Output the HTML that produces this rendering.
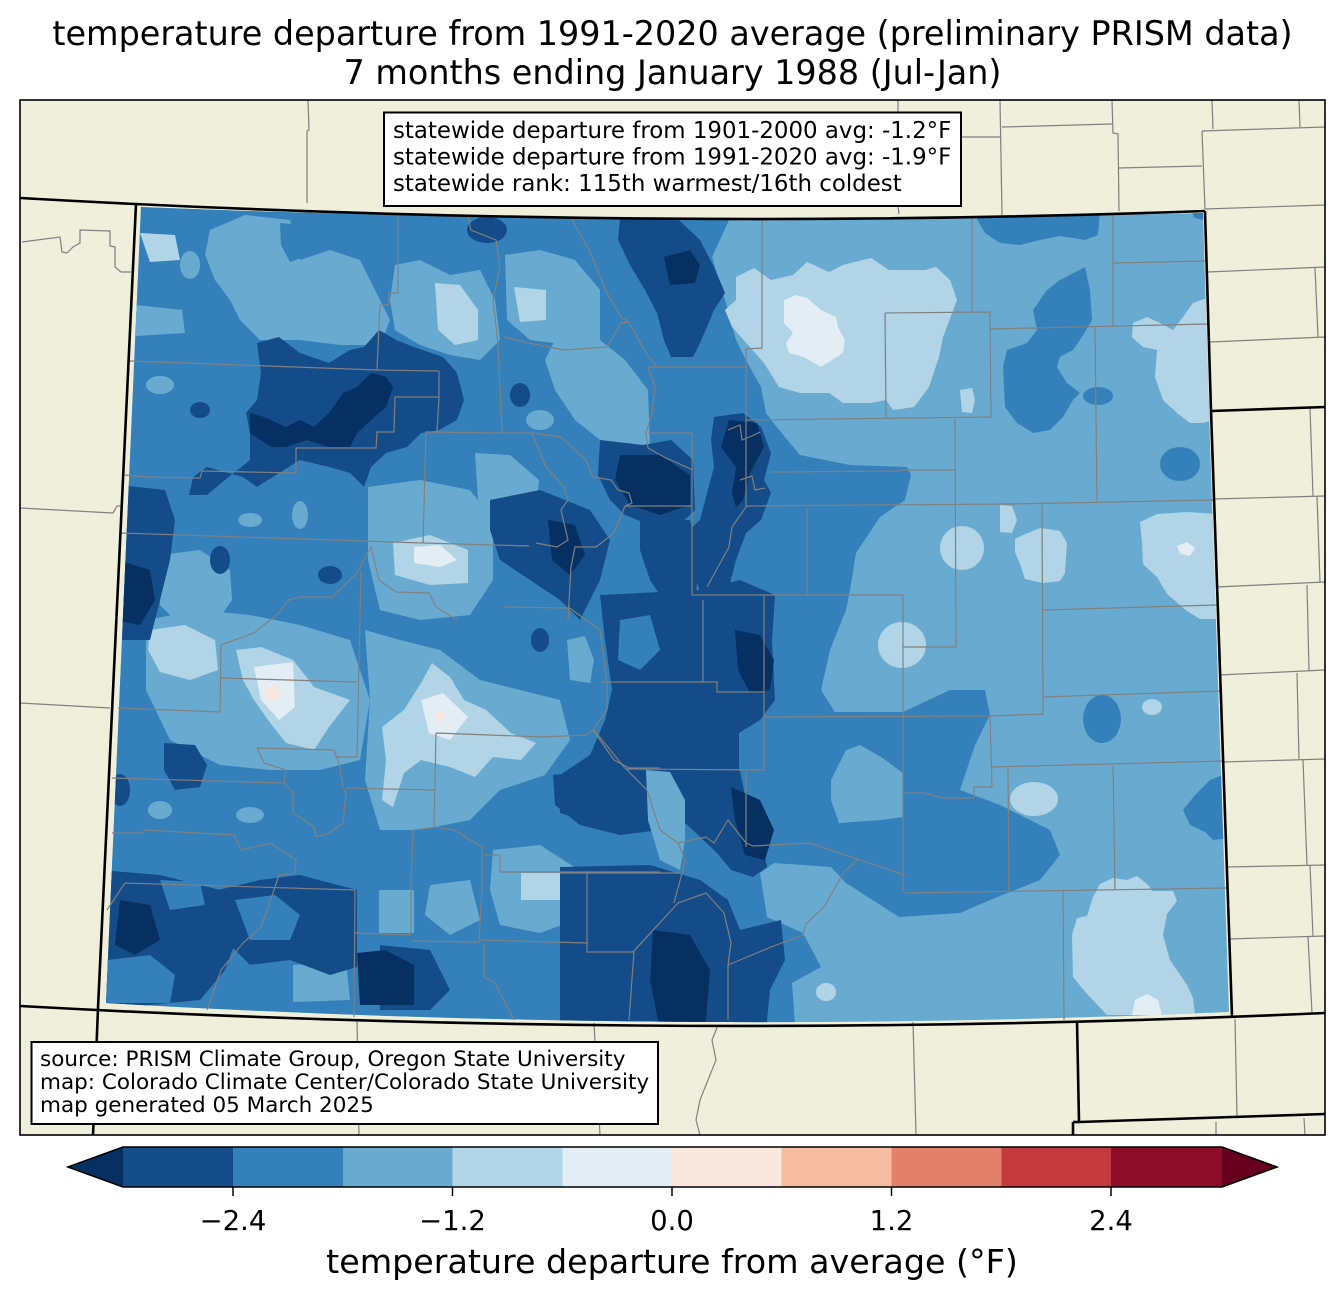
<!DOCTYPE html>
<html>
<head>
<meta charset="utf-8">
<style>
html,body{margin:0;padding:0;background:#fff;}
svg{display:block;}
text{font-family:"DejaVu Sans","Liberation Sans",sans-serif;fill:#000;}
</style>
</head>
<body>
<svg width="1344" height="1299" viewBox="0 0 1344 1299" xmlns="http://www.w3.org/2000/svg">
<defs>
<clipPath id="co">
<path d="M141,207 Q622,227 1203,213 L1209,411 L1229,1012 Q672,1036 106,1003 Z"/>
</clipPath>
</defs>
<rect x="0" y="0" width="1344" height="1299" fill="#ffffff"/>
<rect x="20" y="100" width="1305" height="1035" fill="#efefdb"/>

<g clip-path="url(#co)">
<rect x="90" y="190" width="1160" height="850" fill="#69abd0"/>
<!-- west mid-blue region -->
<polygon fill="#3480ba" points="90,190 730,190 730,218 712,257 725,300 736,340 746,360 761,387 766,413 775,425 800,455 850,465 907,467 911,475 905,500 880,517 856,553 850,590 846,610 830,650 821,690 835,712 903,712 950,690 985,690 990,715 975,745 960,790 1000,805 1050,830 1060,855 1040,880 990,900 960,913 899,917 846,883 831,867 774,863 760,873 767,917 803,933 821,967 792,983 796,1040 90,1040"/>
<!-- east mid-blue blobs -->
<polygon fill="#3480ba" points="973,212 1100,212 1098,235 1085,240 1060,236 1040,240 1020,245 1000,243 985,233"/>
<polygon fill="#3480ba" points="1085,267 1090,290 1092,320 1082,337 1073,350 1060,357 1057,367 1067,383 1080,393 1073,400 1063,417 1050,430 1033,433 1017,423 1005,407 1003,367 1007,350 1027,343 1037,330 1033,310 1047,290 1060,280"/>
<ellipse cx="1098" cy="396" rx="15" ry="9" fill="#3480ba"/>
<ellipse cx="1180" cy="464" rx="20" ry="17" fill="#3480ba"/>
<ellipse cx="1102" cy="719" rx="19" ry="24" fill="#3480ba"/>
<polygon fill="#3480ba" points="1230,772 1210,780 1195,795 1183,810 1190,825 1205,832 1213,840 1230,838"/>
<polygon fill="#3480ba" points="1190,210 1205,210 1203,220 1195,218"/>
<!-- east light blobs -->
<polygon fill="#b1d5e7" points="736,277 754,268 771,280 793,275 807,262 829,272 843,265 871,258 889,270 925,270 936,267 950,280 957,300 943,337 939,357 929,387 914,407 893,410 886,400 871,403 843,403 829,393 800,393 779,387 764,363 750,347 732,327 725,310 736,300"/>
<polygon fill="#e3edf4" points="784,300 796,295 807,298 821,310 836,317 838,327 845,340 843,353 832,360 821,367 814,363 804,357 789,353 786,343 793,333 784,323"/>
<polygon fill="#b1d5e7" points="960,390 972,388 975,400 972,413 962,412"/>
<polygon fill="#b1d5e7" points="1210,297 1193,303 1183,317 1173,330 1160,323 1147,317 1133,323 1132,337 1143,347 1157,350 1155,377 1163,400 1177,413 1190,423 1203,423 1212,420"/>
<polygon fill="#b1d5e7" points="1140,522 1157,514 1187,512 1216,514 1218,619 1200,619 1187,611 1167,594 1157,577 1143,564 1142,543"/>
<polygon fill="#e3edf4" points="1177,546 1187,542 1195,548 1190,556 1180,554"/>
<polygon fill="#b1d5e7" points="1015,539 1023,535 1040,528 1060,531 1067,543 1065,573 1060,581 1043,583 1025,579 1020,564 1015,552"/>
<polygon fill="#b1d5e7" points="1000,505 1012,506 1017,520 1012,533 1000,532"/>
<ellipse cx="962" cy="548" rx="22" ry="22" fill="#b1d5e7"/>
<ellipse cx="1152" cy="707" rx="10" ry="8" fill="#b1d5e7"/>
<ellipse cx="1034" cy="799" rx="24" ry="17" fill="#b1d5e7"/>
<polygon fill="#b1d5e7" points="1100,884 1113,878 1127,880 1137,876 1147,884 1153,891 1173,891 1177,901 1167,914 1163,935 1170,960 1187,985 1193,998 1195,1015 1107,1015 1087,994 1073,977 1072,935 1077,918 1087,916 1093,897"/>
<polygon fill="#e3edf4" points="1135,1000 1147,994 1158,1000 1162,1015 1132,1015"/>
<ellipse cx="902" cy="645" rx="24" ry="23" fill="#b1d5e7"/>
<ellipse cx="860" cy="780" rx="9" ry="8" fill="#b1d5e7"/>
<ellipse cx="826" cy="992" rx="10" ry="9" fill="#b1d5e7"/>
<polygon fill="#69abd0" points="831,780 846,750 860,745 881,757 903,773 903,817 881,820 839,823 831,800"/>
<polygon fill="#69abd0" points="728,963 742,960 747,985 744,1007 730,1007"/>

<!-- west light patches -->
<polygon fill="#69abd0" points="210,230 245,215 290,220 300,260 330,250 360,260 375,290 390,320 380,345 340,345 300,340 260,340 240,320 230,300 215,280 205,255"/>
<polygon fill="#3480ba" points="280,223 313,226 310,255 290,262 281,245"/>
<polygon fill="#69abd0" points="395,265 420,260 450,275 480,270 495,300 500,340 480,360 450,355 420,345 395,330 390,300"/>
<polygon fill="#69abd0" points="505,255 540,250 575,260 600,290 600,340 570,345 530,340 507,320"/>
<polygon fill="#69abd0" points="560,330 600,340 625,360 648,390 650,450 630,460 600,440 575,420 555,390 545,360"/>
<polygon fill="#69abd0" points="368,487 420,480 470,490 493,520 493,580 470,615 420,620 380,610 368,560"/>
<polygon fill="#69abd0" points="475,453 510,455 539,480 535,530 500,530 478,500"/>
<polygon fill="#69abd0" points="160,555 200,550 230,570 232,600 215,625 180,625 160,605"/>
<polygon fill="#69abd0" points="146,620 200,610 250,615 300,625 350,640 370,700 360,760 320,770 270,770 220,765 170,740 146,690"/>
<polygon fill="#69abd0" points="365,630 400,640 440,650 480,680 520,690 560,700 570,740 545,775 500,790 470,820 420,830 380,830 365,780 370,700"/>
<polygon fill="#69abd0" points="493,850 540,845 579,870 575,920 540,933 500,925 490,890"/>
<polygon fill="#69abd0" points="293,965 346,962 350,1000 293,1002"/>
<polygon fill="#69abd0" points="379,890 414,890 414,933 379,933"/>
<polygon fill="#69abd0" points="136,305 182,310 185,333 136,336"/>
<polygon fill="#69abd0" points="430,885 470,880 480,920 450,935 425,915"/>
<polygon fill="#69abd0" points="567,640 585,636 594,660 590,683 570,680"/>
<ellipse cx="250" cy="520" rx="12" ry="7" fill="#69abd0"/>
<ellipse cx="300" cy="515" rx="8" ry="14" fill="#69abd0"/>
<ellipse cx="160" cy="385" rx="14" ry="9" fill="#69abd0"/>
<ellipse cx="190" cy="265" rx="10" ry="14" fill="#69abd0"/>
<ellipse cx="330" cy="310" rx="14" ry="10" fill="#69abd0"/>
<ellipse cx="540" cy="420" rx="14" ry="10" fill="#69abd0"/>
<ellipse cx="160" cy="810" rx="12" ry="9" fill="#69abd0"/>
<ellipse cx="250" cy="815" rx="14" ry="8" fill="#69abd0"/>
<!-- west lighter -->
<polygon fill="#b1d5e7" points="236,650 261,647 293,660 314,687 350,700 329,727 314,750 286,743 268,720 254,700 243,680"/>
<polygon fill="#e3edf4" points="254,667 293,662 295,707 279,720 261,700"/>
<circle cx="272" cy="693" r="7" fill="#f9e7dd"/>
<polygon fill="#b1d5e7" points="150,630 185,625 215,640 218,670 190,680 160,672 148,650"/>
<polygon fill="#b1d5e7" points="382,727 404,710 421,683 432,663 450,677 464,700 486,710 511,733 536,743 521,760 493,757 475,777 450,767 421,760 404,773 393,807 382,800 386,760"/>
<polygon fill="#e3edf4" points="421,700 443,693 468,717 450,740 429,733"/>
<circle cx="440" cy="716" r="5" fill="#f9e7dd"/>
<polygon fill="#b1d5e7" points="435,283 460,285 478,310 478,340 455,345 438,330"/>
<polygon fill="#b1d5e7" points="514,287 546,290 546,320 520,322"/>
<polygon fill="#b1d5e7" points="393,543 430,535 468,550 468,583 430,585 395,575"/>
<polygon fill="#e3edf4" points="414,547 440,545 457,560 440,567 414,563"/>
<polygon fill="#b1d5e7" points="521,873 561,873 561,900 521,900"/>
<polygon fill="#b1d5e7" points="140,233 175,235 180,260 150,262"/>

<!-- dark regions -->
<polygon fill="#134c88" points="257,343 279,337 300,353 329,363 350,350 364,347 379,330 396,340 414,347 443,357 457,373 464,400 457,420 439,430 421,433 407,447 386,453 371,467 364,487 350,473 329,467 300,460 279,473 257,487 243,477 207,467 193,477 189,495 207,495 225,480 250,460 250,433 246,413 257,400 261,373"/>
<ellipse cx="487" cy="230" rx="20" ry="13" fill="#134c88"/>
<polygon fill="#134c88" points="620,218 679,220 700,240 714,267 725,293 714,310 707,327 700,343 693,357 671,357 664,340 657,313 645,290 630,265 618,240"/>
<polygon fill="#134c88" points="714,417 743,413 761,427 771,453 764,480 771,493 761,520 746,533 736,560 729,587 714,600 700,593 693,567 686,533 700,520 707,493 714,467 711,440"/>
<polygon fill="#134c88" points="600,440 643,445 671,440 693,460 695,510 679,525 650,525 625,515 610,500 598,475"/>
<polygon fill="#134c88" points="490,500 540,490 590,510 610,540 600,580 580,620 560,600 530,580 500,560 490,530"/>
<polygon fill="#134c88" points="640,520 690,520 700,560 695,600 670,610 650,580 640,550"/>
<polygon fill="#134c88" points="120,485 165,490 175,520 170,560 160,600 150,640 115,640"/>
<polygon fill="#134c88" points="600,595 700,590 740,580 775,595 772,640 775,700 760,720 739,733 739,767 746,800 760,833 767,867 753,877 731,870 717,853 696,833 674,813 649,807 614,830 581,820 560,813 560,775 590,755 605,720 612,690 605,640"/>
<polygon fill="#134c88" points="560,867 650,865 700,880 728,900 740,930 781,920 785,960 770,990 765,1040 560,1040"/>
<polygon fill="#134c88" points="100,870 160,875 220,890 240,930 225,970 200,1000 100,1010"/>
<polygon fill="#134c88" points="218,890 260,880 300,875 357,890 357,967 330,975 290,960 250,965 225,940"/>
<polygon fill="#134c88" points="164,743 195,745 207,765 200,787 175,790 164,770"/>
<polygon fill="#134c88" points="553,775 600,770 660,785 660,830 620,835 580,825 555,805"/>
<polygon fill="#134c88" points="380,945 430,950 450,990 430,1010 380,1010"/>
<ellipse cx="220" cy="560" rx="10" ry="14" fill="#134c88"/>
<ellipse cx="330" cy="575" rx="12" ry="9" fill="#134c88"/>
<ellipse cx="200" cy="410" rx="10" ry="8" fill="#134c88"/>
<ellipse cx="520" cy="395" rx="10" ry="12" fill="#134c88"/>
<ellipse cx="540" cy="640" rx="9" ry="12" fill="#134c88"/>
<ellipse cx="120" cy="790" rx="10" ry="16" fill="#134c88"/>
<!-- SW mid-blue patches -->
<polygon fill="#3480ba" points="235,900 275,895 300,915 290,940 250,940"/>
<polygon fill="#3480ba" points="108,960 150,955 175,975 170,1003 106,1003"/>
<polygon fill="#3480ba" points="245,965 285,962 292,1000 248,1002"/>
<polygon fill="#3480ba" points="160,880 200,882 205,905 170,910"/>
<!-- San Luis light -->
<polygon fill="#69abd0" points="646,770 670,772 685,800 685,840 680,870 660,860 648,820"/>
<polygon fill="#3480ba" points="620,620 650,615 660,650 640,670 618,660"/>
<!-- darkest -->
<polygon fill="#053061" points="250,413 264,417 286,427 300,420 314,427 329,413 343,393 357,387 371,373 386,377 393,387 386,407 371,420 357,433 350,447 329,447 307,440 286,447 271,447 250,433"/>
<polygon fill="#053061" points="664,257 690,250 700,265 695,283 670,285"/>
<polygon fill="#053061" points="729,420 757,423 764,447 757,460 750,473 743,500 736,507 732,493 736,467 721,447"/>
<polygon fill="#053061" points="620,455 660,455 690,475 690,505 660,515 630,505 615,480"/>
<polygon fill="#053061" points="548,520 575,525 585,555 570,575 552,560"/>
<polygon fill="#053061" points="118,560 150,570 155,600 140,625 115,620"/>
<polygon fill="#053061" points="735,630 760,635 774,660 770,690 750,693 738,670"/>
<polygon fill="#053061" points="731,787 760,800 774,830 765,860 745,855 735,820"/>
<polygon fill="#053061" points="653,930 690,935 710,970 705,1030 660,1030 650,980"/>
<polygon fill="#053061" points="357,953 385,950 414,965 414,1005 360,1005"/>
<polygon fill="#053061" points="120,900 150,905 160,940 135,955 115,945"/>
</g>

<!-- county lines -->
<g fill="none" stroke="#808080" stroke-width="1.2">
<polyline points="308,100 309,130 307,131 307,203"/>
<polyline points="898,100 898,112"/>
<polyline points="898,206 899,214"/>
<polyline points="961,137 1000,137"/>
<polyline points="1000,100 1002,215"/>
<polyline points="1002,127 1112,124"/>
<polyline points="1112,100 1113,133 1118,134 1119,211"/>
<polyline points="1118,168 1202,166"/>
<polyline points="1202,131 1205,209"/>
<polyline points="1202,131 1325,127"/>
<polyline points="1212,100 1213,129"/>
<polyline points="1299,100 1300,127"/>
<polyline points="1205,209 1325,205"/>
<polyline points="1208,272 1325,267"/>
<polyline points="1315,268 1318,337"/>
<polyline points="1210,342 1325,337"/>
<polyline points="1213,499 1325,496"/>
<polyline points="1216,587 1325,582"/>
<polyline points="1219,675 1325,670"/>
<polyline points="1222,762 1325,759"/>
<polyline points="1226,867 1325,865"/>
<polyline points="1228,939 1325,936"/>
<polyline points="1310,408 1313,496"/>
<polyline points="1317,496 1320,582"/>
<polyline points="1307,585 1309,670"/>
<polyline points="1297,673 1299,759"/>
<polyline points="1303,760 1307,865"/>
<polyline points="1310,865 1313,936"/>
<polyline points="1308,937 1312,1013"/>
<polyline points="1235,1019 1237,1116"/>
<polyline points="1216,1122 1216,1135"/>
<polyline points="1304,1118 1305,1135"/>
<polyline points="357,1020 359,1135"/>
<polyline points="594,1023 600,1135"/>
<polyline points="718,1025 712,1040 716,1060 708,1080 700,1100 696,1120 700,1135"/>
<polyline points="913,1022 916,1135"/>
<polyline points="22,242 60,237 62,252 67,253 73,247 80,243 80,230 110,231 110,246 115,247 115,267 121,272 131,272"/>
<polyline points="20,508 113,513 117,506 122,506"/>
<polyline points="20,703 110,708"/>
<polyline points="398,215 398,293 389,293 389,305 380,305 377,370"/>
<polyline points="130,361 377,370 439,371"/>
<polyline points="439,371 439,397 395,397 394,432 377,432 376,448 296,448 296,473 202,471 200,478 146,477 125,475"/>
<polyline points="439,397 437,432 426,432 423,543"/>
<polyline points="426,432 500,433 532,433 561,437 586,460 593,477 611,480 618,490 629,493 632,503 625,506"/>
<polyline points="468,217 471,230 496,240 500,267 493,300 498,343 502,433"/>
<polyline points="504,337 529,343 564,350 607,347 621,323 629,322"/>
<polyline points="571,218 589,250 607,293 621,317 629,322 646,353 657,367"/>
<polyline points="121,533 423,543 529,546"/>
<polyline points="532,433 546,467 564,487 568,500 561,510 568,540 557,547 536,543"/>
<polyline points="648,367 655,387 652,413 646,433 648,448 664,457 693,470"/>
<polyline points="625,506 614,533 596,547 575,547 571,567 568,620"/>
<polyline points="648,367 746,367"/>
<polyline points="648,433 692,433"/>
<polyline points="625,506 692,506"/>
<polyline points="692,433 692,595 903,595 903,893"/>
<polyline points="762,220 762,348 746,349 746,420 991,417"/>
<polyline points="885,313 990,312 991,418"/>
<polyline points="885,313 886,418"/>
<polyline points="972,218 972,312"/>
<polyline points="1113,215 1113,327"/>
<polyline points="1113,263 1205,261"/>
<polyline points="990,329 1207,324"/>
<polyline points="1095,327 1097,501"/>
<polyline points="955,418 956,647 903,647"/>
<polyline points="900,470 955,470"/>
<polyline points="771,472 900,471"/>
<polyline points="746,506 1010,504 1213,500"/>
<polyline points="1042,505 1043,714"/>
<polyline points="1043,610 1217,605"/>
<polyline points="1043,697 1220,691"/>
<polyline points="764,717 990,716 1043,714"/>
<polyline points="807,508 807,595"/>
<polyline points="746,420 746,507 732,527 729,547 707,587"/>
<polyline points="728,430 740,425 742,440 752,436 760,432"/>
<polyline points="740,480 752,476 755,490 765,488"/>
<polyline points="764,595 764,770"/>
<polyline points="626,769 764,770"/>
<polyline points="601,682 717,682 717,692 764,692"/>
<polyline points="703,600 703,682"/>
<polyline points="990,716 992,787 974,787 974,798 942,798 924,793 905,793"/>
<polyline points="992,767 1223,761"/>
<polyline points="1008,768 1009,892"/>
<polyline points="1113,765 1115,890"/>
<polyline points="905,893 1227,888"/>
<polyline points="1063,892 1064,1020"/>
<polyline points="753,846 810,843 905,875"/>
<polyline points="858,859 844,872 824,907 806,924 803,935 771,947 728,965 728,1020"/>
<polyline points="560,873 680,873"/>
<polyline points="587,873 587,952 633,952"/>
<polyline points="633,952 678,903 706,893 724,913 731,943 728,965"/>
<polyline points="594,730 624,767 647,790 660,830 678,843 685,860 681,877 674,903"/>
<polyline points="678,843 706,837 714,843 728,820 746,843 753,846"/>
<polyline points="746,772 746,847"/>
<polyline points="361,570 357,757 336,757 334,750 257,748"/>
<polyline points="221,645 254,633 279,613 289,600 300,597 332,597 357,573 371,547 379,580 396,592 429,593 436,607 457,620"/>
<polyline points="221,645 220,712 118,708"/>
<polyline points="221,678 357,682"/>
<polyline points="257,748 264,763 286,770 284,783 112,778"/>
<polyline points="284,783 293,793 293,813 314,827 316,837 329,833 343,823 346,793 343,787 339,763 334,750"/>
<polyline points="346,788 434,790"/>
<polyline points="436,733 434,827"/>
<polyline points="436,733 543,737 586,735"/>
<polyline points="586,735 593,730 607,710 607,683 600,630 568,607"/>
<polyline points="593,730 614,760 629,768 660,768"/>
<polyline points="504,607 568,608"/>
<polyline points="112,833 143,833 145,830 234,835 241,850 271,843 296,860 295,873 279,875 275,887"/>
<polyline points="125,883 355,890"/>
<polyline points="125,883 107,910"/>
<polyline points="355,890 354,1017"/>
<polyline points="355,933 411,935 411,885 413,830 436,827 454,830 482,847 482,887 479,942 411,941"/>
<polyline points="479,940 588,943"/>
<polyline points="500,855 500,872 660,872"/>
<polyline points="484,855 500,855"/>
<polyline points="484,943 484,977 495,983 514,1020"/>
<polyline points="275,887 261,927 243,943 221,970 207,1010"/>
<polyline points="634,952 629,1020"/>
</g>

<!-- state borders -->
<g fill="none" stroke="#000" stroke-width="2.6" stroke-linejoin="round">
<path d="M20,198 Q620,232 1205,211"/>
<path d="M1205,211 L1211,411 L1232,1016"/>
<path d="M1211,411 L1325,407"/>
<path d="M136,204 L98,1008 L93,1135"/>
<path d="M20,1006 Q672,1042 1325,1013"/>
<path d="M1077,1021 L1079,1122 L1325,1114"/>
<path d="M1073,1122 L1079,1122"/>
<path d="M1073,1122 L1073,1135"/>
</g>
<rect x="20" y="100" width="1305" height="1035" fill="none" stroke="#000" stroke-width="1.6"/>

<!-- stats box -->
<rect x="384" y="112.5" width="577" height="93.5" fill="#fff" stroke="#000" stroke-width="2"/>
<text x="393" y="138" font-size="22.9">statewide departure from 1901-2000 avg: -1.2°F</text>
<text x="393" y="164.5" font-size="22.9">statewide departure from 1991-2020 avg: -1.9°F</text>
<text x="393" y="191" font-size="22.9">statewide rank: 115th warmest/16th coldest</text>

<!-- source box -->
<rect x="31.5" y="1042" width="626.5" height="82" fill="#fff" stroke="#000" stroke-width="2"/>
<text x="40" y="1066" font-size="21.5">source: PRISM Climate Group, Oregon State University</text>
<text x="40" y="1089" font-size="21.5">map: Colorado Climate Center/Colorado State University</text>
<text x="40" y="1112" font-size="21.5">map generated 05 March 2025</text>

<!-- title -->
<text x="672.5" y="45" font-size="33.4" text-anchor="middle">temperature departure from 1991-2020 average (preliminary PRISM data)</text>
<text x="672.5" y="84" font-size="33.4" text-anchor="middle">7 months ending January 1988 (Jul-Jan)</text>

<!-- colorbar -->
<polygon points="123,1147 68,1167 123,1187" fill="#053061"/>
<rect x="123" y="1147" width="110" height="40" fill="#134c88"/>
<rect x="233" y="1147" width="110" height="40" fill="#3480ba"/>
<rect x="343" y="1147" width="109.5" height="40" fill="#69abd0"/>
<rect x="452.5" y="1147" width="110" height="40" fill="#b1d5e7"/>
<rect x="562.5" y="1147" width="109.5" height="40" fill="#e3edf4"/>
<rect x="672" y="1147" width="109.5" height="40" fill="#f9e7dd"/>
<rect x="781.5" y="1147" width="110" height="40" fill="#f7bda3"/>
<rect x="891.5" y="1147" width="110" height="40" fill="#e3806b"/>
<rect x="1001.5" y="1147" width="109.5" height="40" fill="#c3393d"/>
<rect x="1111" y="1147" width="111" height="40" fill="#8b0d28"/>
<polygon points="1222,1147 1277,1167 1222,1187" fill="#67001f"/>
<polygon points="123,1147 1222,1147 1277,1167 1222,1187 123,1187 68,1167" fill="none" stroke="#000" stroke-width="1.6" stroke-linejoin="miter"/>
<g stroke="#000" stroke-width="1.5">
<line x1="233" y1="1187" x2="233" y2="1196"/>
<line x1="452.5" y1="1187" x2="452.5" y2="1196"/>
<line x1="672" y1="1187" x2="672" y2="1196"/>
<line x1="891.5" y1="1187" x2="891.5" y2="1196"/>
<line x1="1111" y1="1187" x2="1111" y2="1196"/>
</g>
<text x="233" y="1230" font-size="27.5" text-anchor="middle">−2.4</text>
<text x="452.5" y="1230" font-size="27.5" text-anchor="middle">−1.2</text>
<text x="672" y="1230" font-size="27.5" text-anchor="middle">0.0</text>
<text x="891.5" y="1230" font-size="27.5" text-anchor="middle">1.2</text>
<text x="1111" y="1230" font-size="27.5" text-anchor="middle">2.4</text>
<text x="672" y="1273" font-size="33.3" text-anchor="middle">temperature departure from average (°F)</text>
</svg>
</body>
</html>
